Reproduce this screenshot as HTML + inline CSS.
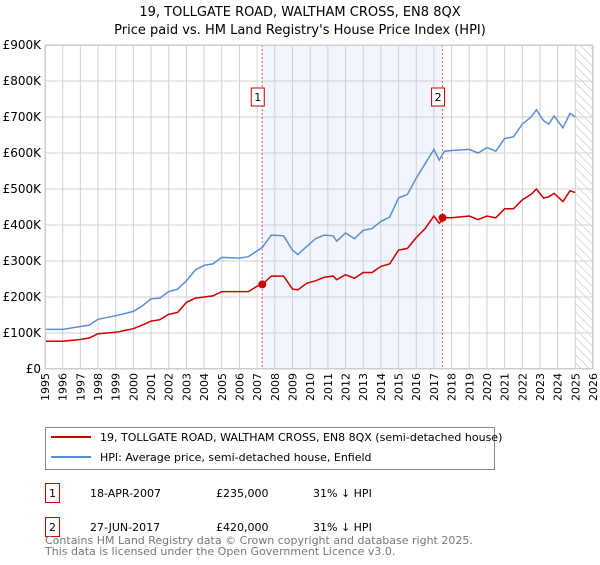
<!DOCTYPE html>
<html><head><meta charset="utf-8"><style>
body{margin:0;background:#fff;font-family:"Liberation Sans","DejaVu Sans",sans-serif;}
svg text{font-family:"DejaVu Sans","Liberation Sans",sans-serif;}
</style></head><body>
<svg id="c" width="600" height="560" xmlns="http://www.w3.org/2000/svg">
<defs><pattern id="hatch" width="6" height="6" patternUnits="userSpaceOnUse" patternTransform="rotate(-45)"><line x1="0" y1="0" x2="0" y2="6" stroke="#bbb" stroke-width="1"/></pattern></defs>
<text x="300" y="16" text-anchor="middle" font-size="13">19, TOLLGATE ROAD, WALTHAM CROSS, EN8 8QX</text>
<text x="300" y="34" text-anchor="middle" font-size="13">Price paid vs. HM Land Registry's House Price Index (HPI)</text>
<g id="plot"></g>
<g>
<rect x="45.5" y="427.5" width="449" height="42" fill="#fff" stroke="#888"/>
<line x1="51" y1="437" x2="91" y2="437" stroke="#cc0000" stroke-width="2"/>
<text x="100" y="441" font-size="11">19, TOLLGATE ROAD, WALTHAM CROSS, EN8 8QX (semi-detached house)</text>
<line x1="51" y1="457" x2="91" y2="457" stroke="#5b8fd4" stroke-width="2"/>
<text x="100" y="461" font-size="11">HPI: Average price, semi-detached house, Enfield</text>
</g>
<g font-size="11">
<rect x="45.5" y="483.5" width="14" height="19" fill="#fff" stroke="#cc0000"/><text x="52.5" y="497" text-anchor="middle">1</text>
<text x="90" y="497">18-APR-2007</text><text x="216" y="497">£235,000</text><text x="313" y="497">31% ↓ HPI</text>
<rect x="45.5" y="517.5" width="14" height="19" fill="#fff" stroke="#cc0000"/><text x="52.5" y="531" text-anchor="middle">2</text>
<text x="90" y="531">27-JUN-2017</text><text x="216" y="531">£420,000</text><text x="313" y="531">31% ↓ HPI</text>
</g>
<text x="45" y="544" font-size="11" fill="#777">Contains HM Land Registry data © Crown copyright and database right 2025.</text>
<text x="45" y="555" font-size="11" fill="#777">This data is licensed under the Open Government Licence v3.0.</text>
</svg>
<script>
const yTicks=[0,100,200,300,400,500,600,700,800,900];
const yTickLabels=["£0","£100K","£200K","£300K","£400K","£500K","£600K","£700K","£800K","£900K"];
const years=[1995,1996,1997,1998,1999,2000,2001,2002,2003,2004,2005,2006,2007,2008,2009,2010,2011,2012,2013,2014,2015,2016,2017,2018,2019,2020,2021,2022,2023,2024,2025,2026];
const hpiT=[1995,1996,1997,1997.5,1998,1999,2000,2000.5,2001,2001.5,2002,2002.5,2003,2003.5,2004,2004.5,2005,2006,2006.5,2007,2007.3,2007.8,2008.5,2009,2009.3,2009.8,2010.3,2010.8,2011.3,2011.5,2012,2012.5,2013,2013.5,2014,2014.5,2015,2015.5,2016,2016.5,2017,2017.3,2017.6,2018,2019,2019.5,2020,2020.5,2021,2021.5,2022,2022.5,2022.8,2023.2,2023.5,2023.8,2024.3,2024.7,2025];
const hpiV=[110,110,118,122,138,148,160,175,195,197,215,222,245,275,288,292,310,308,312,328,338,372,370,330,318,340,362,372,370,355,378,362,385,390,410,422,475,485,530,570,610,580,605,607,610,600,615,605,640,645,680,700,720,690,680,703,670,710,700];
const ppV=[77,77,82,86,98,102,112,122,133,137,152,157,185,197,200,203,215,215,215,230,235,258,258,222,220,238,245,255,258,248,262,252,268,268,285,292,330,335,365,390,425,405,420,420,425,415,425,420,445,445,470,485,500,475,478,488,465,495,490];
const saleT=[2007.29,2017.49];
const saleV=[235,420];
const saleLabels=["1","2"];
const L=45,R=593,T=45,B=369,x0=1995,x1=2026,yMax=900;
const X=t=>L+(t-x0)*(R-L)/(x1-x0);
const Y=v=>B-v*(B-T)/yMax;
const NS="http://www.w3.org/2000/svg";
const g=document.getElementById('plot');
function mk(tag,attrs){const e=document.createElementNS(NS,tag);for(const k in attrs)e.setAttribute(k,attrs[k]);g.appendChild(e);return e;}
let e=mk('rect',{x:X(saleT[0]),y:T,width:X(saleT[1])-X(saleT[0]),height:B-T,fill:'#f1f5fd'});


e=mk('rect',{x:X(2025),y:T,width:R-X(2025),height:B-T,fill:'url(#hatch)'});


years.forEach(yr=>{
 const l=mk('line',{x1:X(yr),x2:X(yr),y1:T,y2:B,stroke:'#d0d0d0'});
 
 
 const tx=mk('text',{x:0,y:0,'font-size':11,'text-anchor':'end',transform:`translate(${X(yr)+4},${B+4}) rotate(-90)`});
 tx.textContent=yr;
 
 
});
yTicks.forEach((v,i)=>{
 const l=mk('line',{x1:L,x2:R,y1:Y(v),y2:Y(v),stroke:'#d0d0d0'});
 
 
 const tx=mk('text',{x:L-4,y:Y(v)+4,'font-size':12,'text-anchor':'end'});
 tx.textContent=yTickLabels[i];
 
 
});
saleT.forEach((t,i)=>{
 const l=mk('line',{x1:X(t),x2:X(t),y1:T,y2:B,stroke:'#e06060','stroke-dasharray':'2,2'});
 
 
 const r=mk('rect',{x:X(t)-11,y:88,width:13,height:18,fill:'#fff',stroke:'#cc0000'});
 
 
 const tx=mk('text',{x:X(t)-4.5,y:101,'font-size':11,'text-anchor':'middle'});
 tx.textContent=saleLabels[i];
 
 
});
const pts=(ts,vs)=>ts.map((t,i)=>X(t).toFixed(1)+','+Y(vs[i]).toFixed(1)).join(' ');
e=mk('polyline',{points:pts(hpiT,hpiV),fill:'none',stroke:'#5b8fd4','stroke-width':1.5});


e=mk('polyline',{points:pts(hpiT,ppV),fill:'none',stroke:'#cc0000','stroke-width':1.5});


saleT.forEach((t,i)=>{
 const c=mk('circle',{cx:X(t),cy:Y(saleV[i]),r:4,fill:'#cc0000'});
 
 
});
e=mk('rect',{x:L+0.5,y:T+0.5,width:R-L-1,height:B-T-1,fill:'none',stroke:'#ccc'});


</script>
</body></html>
